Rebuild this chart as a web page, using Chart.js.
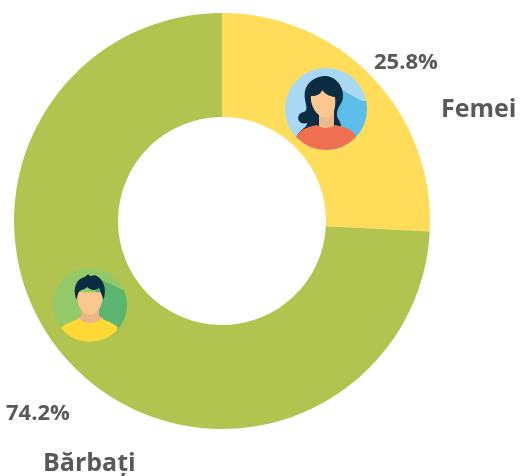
<!DOCTYPE html>
<html>
<head>
<meta charset="utf-8">
<style>html,body{margin:0;padding:0;background:#fff;overflow:hidden}canvas{display:block}</style>
<script src="https://cdn.jsdelivr.net/npm/chart.js@4/dist/chart.umd.min.js"></script>
</head>
<body>
<canvas id="c" width="520" height="476"></canvas>
<script>
const categories = ["Femei", "Bărbați"];
const shares = [25.8, 74.2];
const sliceColors = ["#FFDC5A", "#B1C44F"];
const textColor = "#595959";
const fontFamily = '"Open Sans","Noto Sans",sans-serif';

function circleClip(ctx, x, y, r, bg, fn) {
  ctx.save();
  ctx.beginPath(); ctx.arc(x, y, r, 0, Math.PI * 2); ctx.fillStyle = bg; ctx.fill(); ctx.clip();
  ctx.translate(x, y); ctx.scale(r / 41, r / 41);
  fn(ctx);
  ctx.restore();
}
function poly(ctx, color, pts) {
  ctx.fillStyle = color; ctx.beginPath();
  pts.forEach((p, i) => i ? ctx.lineTo(p[0], p[1]) : ctx.moveTo(p[0], p[1]));
  ctx.closePath(); ctx.fill();
}
function drawWoman(ctx) {
  poly(ctx, "#5CBDEB", [[-4,-30],[36,-8],[50,-8],[50,50],[0,50],[8,10]]);
  // hair
  ctx.fillStyle = "#0B2C42"; ctx.beginPath();
  ctx.moveTo(-2,-33);
  ctx.bezierCurveTo(8,-34,17,-24,17,-14);
  ctx.bezierCurveTo(18,-6,10,-2,11,6);
  ctx.bezierCurveTo(11,10,15,12,15,18);
  ctx.bezierCurveTo(15,24,13,26,12,31);
  ctx.lineTo(7,20); ctx.lineTo(-29,27);
  ctx.bezierCurveTo(-26,20,-19,19,-19,14);
  ctx.bezierCurveTo(-29,17,-31,4,-22,3);
  ctx.bezierCurveTo(-16,0,-23,-8,-21,-18);
  ctx.bezierCurveTo(-19,-27,-11,-32,-2,-33);
  ctx.fill();
  // neck, face
  ctx.fillStyle = "#EFB98E"; ctx.fillRect(-7,0,15,20);
  ctx.fillStyle = "#FAC88F"; ctx.beginPath();
  ctx.moveTo(-15,-13);
  ctx.bezierCurveTo(-9,-13,-5,-15,-4,-19);
  ctx.bezierCurveTo(0,-14,6,-12,9,-12);
  ctx.bezierCurveTo(10,-3,9,7,0,9);
  ctx.bezierCurveTo(-9,8,-16,-3,-15,-13);
  ctx.fill();
  // top
  ctx.fillStyle = "#EE7050"; ctx.beginPath();
  ctx.moveTo(-30,28);
  ctx.bezierCurveTo(-26,20,-18,18,-9,16);
  ctx.bezierCurveTo(-5,20,5,20,9,16);
  ctx.bezierCurveTo(18,18,26,19,30,28);
  ctx.lineTo(30,50); ctx.lineTo(-30,50);
  ctx.closePath(); ctx.fill();
}
function drawMan(ctx) {
  poly(ctx, "#5BB56E", [[8,-30],[38,-16],[50,-10],[50,50],[0,50],[4,0]]);
  // neck & shoulders
  ctx.fillStyle = "#EDB48B"; ctx.beginPath();
  ctx.moveTo(-9,0); ctx.lineTo(10,0); ctx.lineTo(10,12); ctx.lineTo(15,15);
  ctx.bezierCurveTo(8,22,-8,22,-15,15); ctx.lineTo(-9,12); ctx.closePath(); ctx.fill();
  // shirt
  ctx.fillStyle = "#FFD835"; ctx.beginPath();
  ctx.moveTo(-32,25);
  ctx.bezierCurveTo(-26,20,-19,18,-12,15);
  ctx.bezierCurveTo(-6,22,6,22,12,15);
  ctx.bezierCurveTo(19,18,26,20,31,25);
  ctx.bezierCurveTo(22,52,-22,52,-32,25);
  ctx.fill();
  // face
  ctx.fillStyle = "#FAC88F"; ctx.beginPath();
  ctx.moveTo(-14,-14);
  ctx.lineTo(14,-14);
  ctx.bezierCurveTo(15,0,9,11,0,11);
  ctx.bezierCurveTo(-9,11,-15,0,-14,-14);
  ctx.fill();
  // hair
  ctx.fillStyle = "#0B2C42"; ctx.beginPath();
  ctx.moveTo(-15,-6);
  ctx.bezierCurveTo(-20,-20,-14,-29,-6,-31);
  ctx.lineTo(-2,-34); ctx.lineTo(0,-32); ctx.lineTo(6,-33);
  ctx.bezierCurveTo(15,-29,19,-18,15,-6);
  ctx.lineTo(13,-11); ctx.lineTo(10,-19);
  ctx.bezierCurveTo(5,-14,-1,-18,-3,-20);
  ctx.bezierCurveTo(-7,-16,-11,-18,-13,-13);
  ctx.closePath(); ctx.fill();
}

const decorations = {
  id: "decorations",
  afterDraw(chart) {
    const ctx = chart.ctx;
    circleClip(ctx, 326, 109, 41, "#A9D8F5", drawWoman);
    circleClip(ctx, 90, 305, 37, "#94C96A", drawMan);
    ctx.save();
    ctx.fillStyle = textColor;
    ctx.textBaseline = "alphabetic";
    ctx.textAlign = "left";
    ctx.font = "700 22px " + fontFamily;
    ctx.fillText(shares[0].toFixed(1) + "%", 374, 69);
    ctx.fillText(shares[1].toFixed(1) + "%", 6, 420);
    ctx.font = "700 25px " + fontFamily;
    ctx.fillText(categories[0], 441, 117);
    ctx.fillText(categories[1], 43, 471);
    ctx.restore();
  }
};

new Chart(document.getElementById("c"), {
  type: "doughnut",
  data: {
    labels: categories,
    datasets: [{ data: shares, backgroundColor: sliceColors, borderWidth: 0 }]
  },
  options: {
    responsive: false,
    animation: false,
    cutout: "50%",
    layout: { padding: { left: 14, top: 13, right: 90, bottom: 47 } },
    plugins: { legend: { display: false }, tooltip: { enabled: false } }
  },
  plugins: [decorations]
});
</script>
</body>
</html>
